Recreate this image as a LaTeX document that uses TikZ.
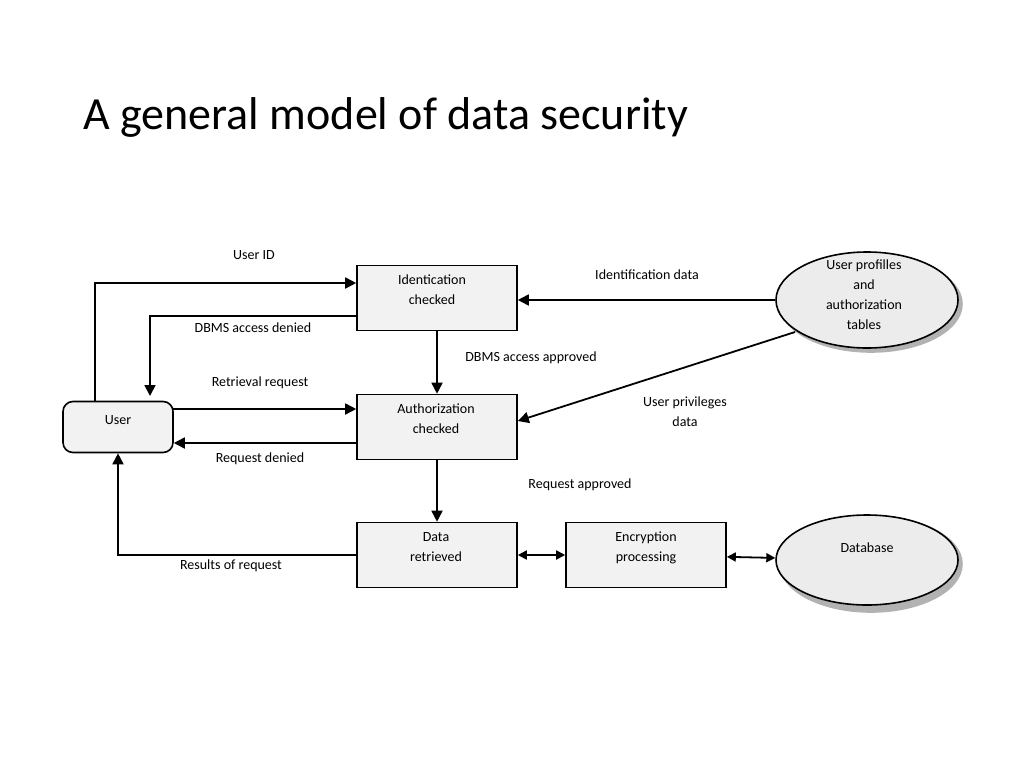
\documentclass[tikz,border=0pt]{standalone}
\usepackage{fontspec}
\setmainfont{Carlito}
\usetikzlibrary{arrows.meta,shapes.geometric}
\begin{document}
\begin{tikzpicture}[x=1pt,y=-1pt,
  fnt/.style={font=\fontsize{14}{20}\selectfont},
  box/.style={draw,line width=1.6pt,fill=gray!10,minimum width=160pt,minimum height=65pt,fnt},
  btxt/.style={align=center,fnt,inner sep=0pt},
  ell/.style={draw,line width=1.6pt,fill=gray!15,ellipse,inner sep=0pt,minimum width=182pt,minimum height=96pt},
  arr/.style={line width=1.8pt,-{Triangle[length=11pt,width=11pt]}},
  darr/.style={line width=1.8pt,{Triangle[length=9pt,width=9pt]}-{Triangle[length=9pt,width=9pt]}},
  lbl/.style={fnt,align=center}]
\useasboundingbox (0,0) rectangle (1024,768);
\node[anchor=base west,font=\fontsize{46}{52}\selectfont] (title) at (80,129) {A general model of data security};
\node[box] (id) at (437,298) {};
\node[btxt] at (432,290) {Identication\\checked};
\node[box] (au) at (437,427) {};
\node[btxt] at (436,419) {Authorization\\checked};
\node[box] (dr) at (437,555) {};
\node[btxt] at (436,547) {Data\\retrieved};
\node[box] (en) at (646,555) {};
\node[btxt] at (646,548) {Encryption\\processing};
\node[draw,line width=1.6pt,fill=gray!10,rounded corners=10pt,minimum width=110pt,minimum height=51pt] (us) at (118,427) {};
\node[btxt] at (118,420) {User};
\node[ell,fill=gray!60,draw=gray!60] at (871,304) {};
\node[ell] (up) at (867,300) {};
\node[btxt] at (864,295) {User profilles\\and\\authorization\\tables};
\node[ell,fill=gray!60,draw=gray!60] at (871,564) {};
\node[ell,minimum height=90pt] (db) at (867,560) {};
\node[btxt] at (867,548) {Database};
\coordinate (a1) at (95,402); \coordinate (a2) at (95,283);
\draw[arr] (a1) -- (a2) -- (id.west |- a2);
\coordinate (b1) at (150,316);
\draw[arr] (id.west |- b1) -- (b1) -- (150,396);
\draw[arr] (up.west) -- (id.east |- up.west);
\draw[arr] (id) -- (au);
\draw[arr] (795,332) -- (au.east |- 0,421);
\coordinate (r1) at (173,409);
\draw[arr] (r1) -- (au.west |- r1);
\coordinate (r2) at (357,443);
\draw[arr] (r2) -- (us.east |- r2);
\draw[arr] (au) -- (dr);
\coordinate (c1) at (118,555);
\draw[arr] (dr.west) -- (c1) -- (us.south);
\draw[darr] (dr) -- (en);
\draw[darr] (en) -- (db);
\node[lbl] (l1) at (254,255) {User ID};
\node[lbl] (l2) at (253,328) {DBMS access denied};
\node[lbl] (l3) at (647,275) {Identification data};
\node[lbl] (l4) at (531,358) {DBMS access approved};
\node[lbl] (l5) at (685,412) {User privileges\\data};
\node[lbl] (l6) at (260,383) {Retrieval request};
\node[lbl] (l7) at (260,459) {Request denied};
\node[lbl] (l8) at (580,485) {Request approved};
\node[lbl] (l9) at (231,566) {Results of request};
\end{tikzpicture}
\end{document}
